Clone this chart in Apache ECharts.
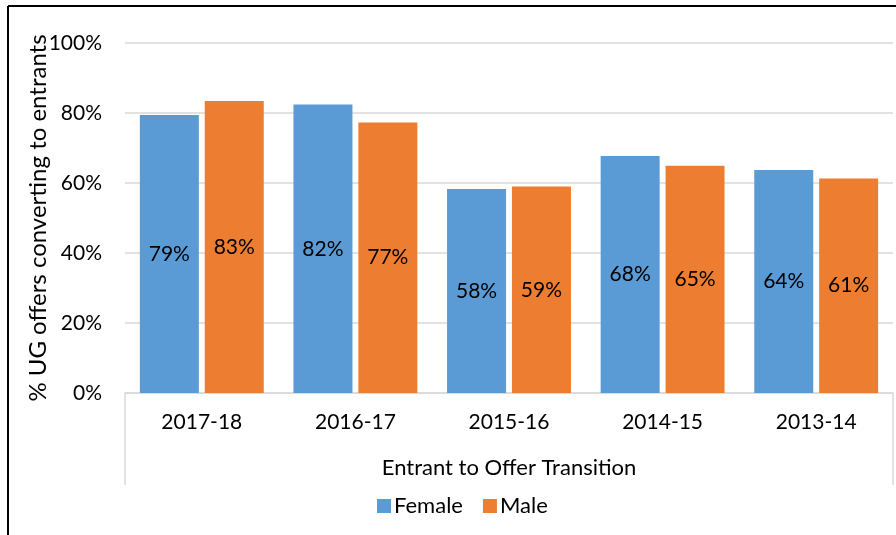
<!DOCTYPE html>
<html>
<head>
<meta charset="utf-8">
<script src="https://cdn.jsdelivr.net/npm/echarts@6/dist/echarts.min.js"></script>
<style>
  html, body { margin: 0; padding: 0; background: #fff; }
  #main { width: 896px; height: 535px; }
</style>
</head>
<body>
<div id="main"></div>
<script>
  // data
  var years = ['2017-18', '2016-17', '2015-16', '2014-15', '2013-14'];
  var female = [79.4, 82.4, 58.3, 67.7, 63.7];
  var male = [83.4, 77.3, 59.0, 64.9, 61.3];
  var yTicks = [0, 20, 40, 60, 80, 100];

  var FONT = 'Lato';
  var myChart = echarts.init(document.getElementById('main'));

  function barLabel() {
    return {
      show: true,
      position: 'inside',
      color: '#000',
      fontFamily: FONT,
      fontSize: 21,
      formatter: function (p) { return Math.round(p.value) + '%'; }
    };
  }

  var option = {
    animation: false,
    textStyle: { fontFamily: FONT },
    grid: { left: 125, right: 3, top: 43, bottom: 142 },
    legend: {
      data: ['Female', 'Male'],
      bottom: 13,
      left: 372,
      itemWidth: 14,
      itemHeight: 14,
      itemGap: 20,
      icon: 'rect',
      textStyle: { fontFamily: FONT, fontSize: 22, color: '#000', padding: [0, 0, 0, -2] }
    },
    xAxis: {
      type: 'category',
      data: years,
      name: 'Entrant to Offer Transition',
      nameLocation: 'middle',
      nameGap: 64,
      nameMoveOverlap: false,
      nameTextStyle: { fontFamily: FONT, fontSize: 22, color: '#000' },
      axisLine: { lineStyle: { color: '#d9d9d9', width: 1.5 } },
      axisTick: { show: false },
      axisLabel: { fontFamily: FONT, fontSize: 21, color: '#000', margin: 19 }
    },
    yAxis: {
      type: 'value',
      min: yTicks[0],
      max: yTicks[yTicks.length - 1],
      interval: 20,
      name: '% UG offers converting to entrants',
      nameLocation: 'middle',
      nameGap: 75,
      nameMoveOverlap: false,
      nameTextStyle: { fontFamily: FONT, fontSize: 24, color: '#000' },
      axisLine: { show: false },
      axisTick: { show: false },
      axisLabel: { fontFamily: FONT, fontSize: 21, color: '#000', margin: 23, formatter: '{value}%' },
      splitLine: { lineStyle: { color: '#d9d9d9', width: 1.5 } }
    },
    series: [
      {
        name: 'Female',
        type: 'bar',
        data: female,
        barWidth: 59,
        barGap: '10%',
        itemStyle: { color: '#5B9BD5' },
        label: barLabel()
      },
      {
        name: 'Male',
        type: 'bar',
        data: male,
        barWidth: 59,
        itemStyle: { color: '#ED7D31' },
        label: barLabel()
      }
    ],
    graphic: [
      // outer frame (document border)
      { type: 'line', shape: { x1: 8, y1: 6, x2: 8, y2: 535 }, style: { stroke: '#000', lineWidth: 2 } },
      { type: 'line', shape: { x1: 8, y1: 6, x2: 896, y2: 6 }, style: { stroke: '#000', lineWidth: 2 } },
      // category axis box sides
      { type: 'line', shape: { x1: 125, y1: 393, x2: 125, y2: 485 }, style: { stroke: '#d9d9d9', lineWidth: 1.5 } },
      { type: 'line', shape: { x1: 893, y1: 393, x2: 893, y2: 485 }, style: { stroke: '#d9d9d9', lineWidth: 1.5 } }
    ]
  };

  myChart.setOption(option);
</script>
</body>
</html>
